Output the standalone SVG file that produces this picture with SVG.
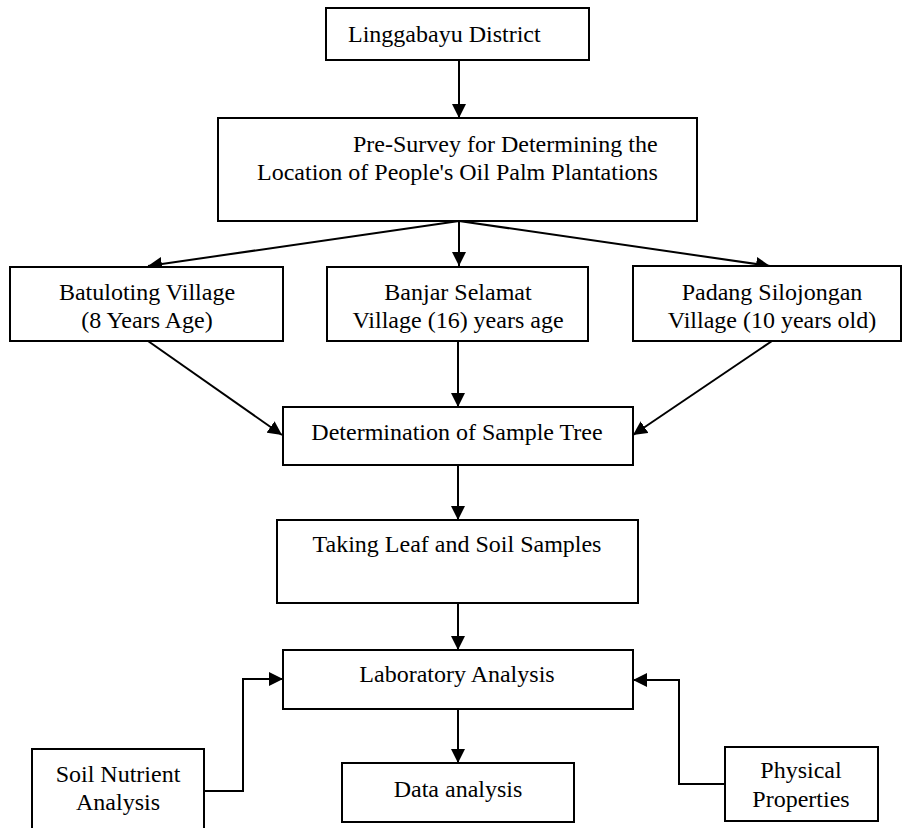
<svg xmlns="http://www.w3.org/2000/svg" width="902" height="828" viewBox="0 0 902 828">
<style>
  .box { fill: #ffffff; stroke: #000000; stroke-width: 2; }
  .t { font-family: "Liberation Serif", "Times New Roman", serif; font-size: 24px; fill: #000000; }
  .c { text-anchor: middle; }
  .edge { fill: none; stroke: #000000; stroke-width: 2; marker-end: url(#ah); }
</style>
<defs>
  <marker id="ah" markerUnits="userSpaceOnUse" markerWidth="14" markerHeight="14" viewBox="0 0 14 14" refX="14" refY="7" orient="auto">
    <path d="M0,0 L14,7 L0,14 z" fill="#000000"/>
  </marker>
</defs>
<rect width="902" height="828" fill="#ffffff"/>

<g id="connectors">
  <line class="edge" x1="459" y1="60" x2="459" y2="118"/>
  <line class="edge" x1="459" y1="221" x2="148" y2="266"/>
  <line class="edge" x1="459" y1="221" x2="459" y2="266"/>
  <line class="edge" x1="459" y1="221" x2="770" y2="266"/>
  <line class="edge" x1="148" y1="341" x2="282" y2="435"/>
  <line class="edge" x1="458" y1="341" x2="458" y2="407"/>
  <line class="edge" x1="772" y1="341" x2="633" y2="435"/>
  <line class="edge" x1="458" y1="465" x2="458" y2="520"/>
  <line class="edge" x1="458" y1="603" x2="458" y2="650"/>
  <line class="edge" x1="458" y1="709" x2="458" y2="763"/>
  <polyline class="edge" points="204,791 243,791 243,679 283,679"/>
  <polyline class="edge" points="725,784 679,784 679,680 633,680"/>
</g>

<g id="linggabayu">
  <rect class="box" x="326" y="8" width="263" height="52"/>
  <text class="t" x="348" y="42">Linggabayu District</text>
</g>

<g id="presurvey">
  <rect class="box" x="218" y="118" width="479" height="103"/>
  <text class="t" x="353" y="152">Pre-Survey for Determining the</text>
  <text class="t" x="257" y="180">Location of People's Oil Palm Plantations</text>
</g>

<g id="batuloting">
  <rect class="box" x="10" y="267" width="273" height="74"/>
  <text class="t c" x="147" y="300">Batuloting Village</text>
  <text class="t c" x="147" y="328">(8 Years Age)</text>
</g>

<g id="banjar">
  <rect class="box" x="327" y="267" width="261" height="74"/>
  <text class="t c" x="458" y="300">Banjar Selamat</text>
  <text class="t c" x="458" y="328">Village (16) years age</text>
</g>

<g id="padang">
  <rect class="box" x="633" y="266" width="268" height="75"/>
  <text class="t c" x="772" y="300">Padang Silojongan</text>
  <text class="t c" x="772" y="328">Village (10 years old)</text>
</g>

<g id="determination">
  <rect class="box" x="283" y="407" width="350" height="58"/>
  <text class="t c" x="457" y="440">Determination of Sample Tree</text>
</g>

<g id="taking">
  <rect class="box" x="277" y="520" width="361" height="83"/>
  <text class="t c" x="457" y="552">Taking Leaf and Soil Samples</text>
</g>

<g id="laboratory">
  <rect class="box" x="283" y="650" width="350" height="59"/>
  <text class="t c" x="457" y="682">Laboratory Analysis</text>
</g>

<g id="data">
  <rect class="box" x="342" y="763" width="232" height="59"/>
  <text class="t c" x="458" y="797">Data analysis</text>
</g>

<g id="soil">
  <path class="box" d="M32,830 L32,749 L204,749 L204,830"/>
  <text class="t c" x="118" y="782">Soil Nutrient</text>
  <text class="t c" x="118" y="810">Analysis</text>
</g>

<g id="physical">
  <rect class="box" x="725" y="747" width="153" height="74"/>
  <text class="t c" x="801" y="778">Physical</text>
  <text class="t c" x="801" y="807">Properties</text>
</g>
</svg>
